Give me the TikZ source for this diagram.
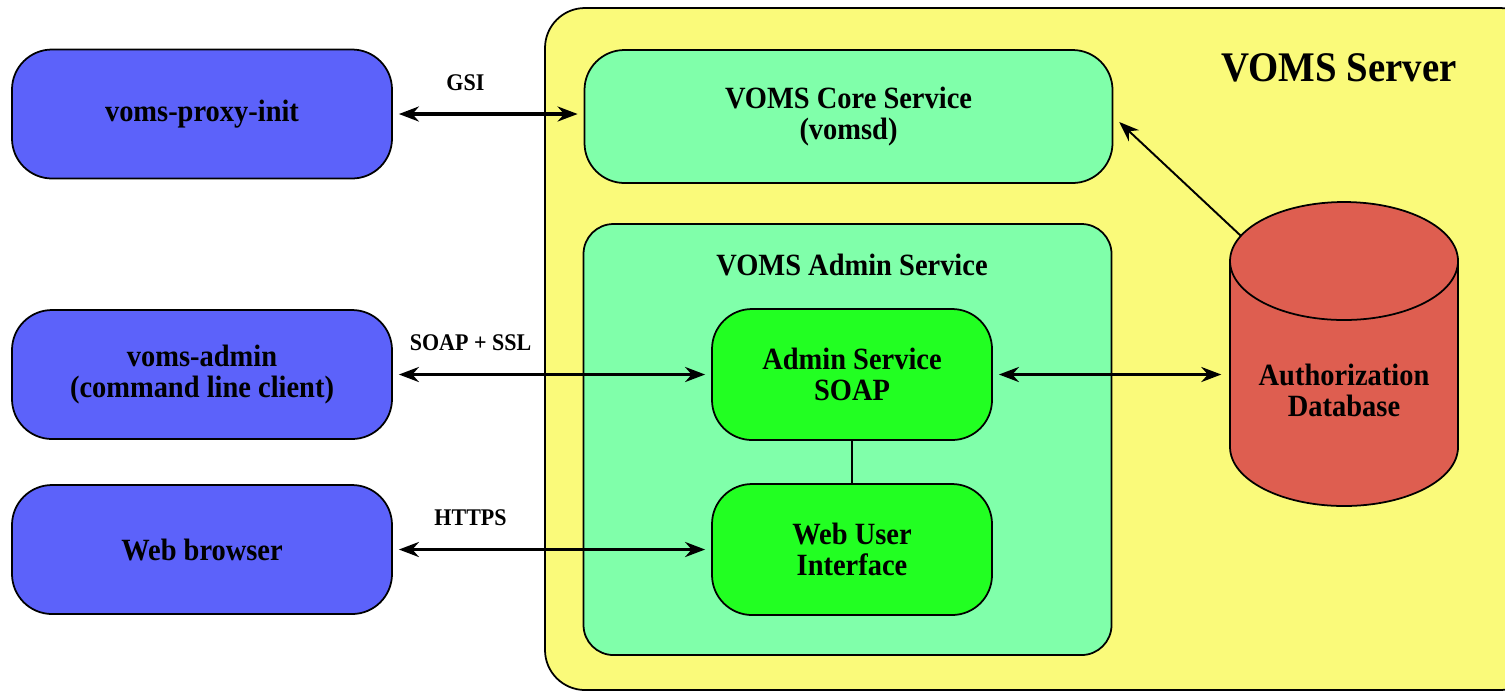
\documentclass[tikz,border=0pt]{standalone}
\usepackage{fontspec}
\setmainfont{Liberation Serif}[FakeStretch=0.92]
\usetikzlibrary{arrows.meta}

\definecolor{clientblue}{RGB}{92,98,250}
\definecolor{serveryellow}{RGB}{250,250,122}
\definecolor{servicegreen}{RGB}{128,255,170}
\definecolor{partgreen}{RGB}{34,255,34}
\definecolor{dbred}{RGB}{222,94,80}

\newcommand{\bodyfont}{\fontsize{8.8}{8.8}\selectfont\bfseries}
\newcommand{\titlefont}{\fontsize{12}{13}\selectfont\bfseries}
\newcommand{\lblfont}{\fontsize{6.8}{7}\selectfont\bfseries}

\tikzset{
    client/.style={draw, line width=0.5pt, fill=clientblue, rounded corners=0.4cm,
        minimum width=3.8cm, minimum height=1.29cm, align=center, font=\bodyfont},
    service/.style={draw, line width=0.5pt, fill=servicegreen, rounded corners=0.4cm,
        minimum width=5.28cm, minimum height=1.33cm, align=center, font=\bodyfont},
    part/.style={draw, line width=0.5pt, fill=partgreen, rounded corners=0.4cm,
        minimum width=2.8cm, minimum height=1.31cm, align=center, font=\bodyfont},
    conn/.style={<->, line width=0.9pt, shorten <=0.6mm, shorten >=0.6mm},
    feed/.style={->, line width=0.55pt, shorten >=0.8mm},
    link/.style={line width=0.6pt},
    lbl/.style={above=1mm, font=\lblfont}
}

\begin{document}
\begin{tikzpicture}[>={Stealth[length=2mm, width=1.5mm]}]

    % Frame
    \path[use as bounding box] (0,0) rectangle (15.05,-6.92);
    \clip (0,0) rectangle (15.05,-6.92);

    % Server
    \draw[line width=0.5pt, fill=serveryellow, rounded corners=0.4cm] (5.45,-0.08) rectangle (15.40,-6.90);
    \node[font=\titlefont] (serverlbl) at (13.39,-0.68) {VOMS Server};

    % Services inside the server
    \node[service] (core) at (8.485,-1.165) {VOMS Core Service\\(vomsd)};
    \node[service, minimum height=4.31cm, rounded corners=0.3cm] (admin) at (8.475,-4.395) {};
    \node[font=\bodyfont] (adminlbl) at (8.52,-2.65) {VOMS Admin Service};
    \node[part] (soap) at (8.52,-3.745) {Admin Service\\SOAP};
    \node[part] (webui) at (8.52,-5.495) {Web User\\Interface};
    \draw[link] (soap) -- (webui);

    % Database
    \draw[line width=0.5pt, fill=dbred] (12.30,-2.61) -- (12.30,-4.47)
        arc[start angle=180, end angle=360, x radius=1.14, y radius=0.59]
        -- (14.58,-2.61)
        arc[start angle=0, end angle=180, x radius=1.14, y radius=0.59] -- cycle;
    \draw[line width=0.5pt] (12.30,-2.61) arc[start angle=180, end angle=360, x radius=1.14, y radius=0.59];
    \node[font=\bodyfont, align=center, minimum width=2.28cm] (db) at (13.44,-3.90) {Authorization\\Database};
    \coordinate (dbrim) at (12.41,-2.36);

    % Clients
    \foreach \name/\y/\txt in {proxy/-1.14/voms-proxy-init, admincli/-3.745/{voms-admin\\(command line client)}, browser/-5.495/Web browser}
        \node[client] (\name) at (2.02,\y) {\txt};

    % Connections
    \draw[conn] (proxy.east) -- (proxy.east -| core.west) node[lbl, pos=0.38] (gsi) {GSI};
    \draw[conn] (admincli.east) -- (admincli.east -| soap.west) node[lbl, pos=0.244] (soapssl) {SOAP + SSL};
    \draw[conn] (browser.east) -- (browser.east -| webui.west) node[lbl, pos=0.244] (https) {HTTPS};
    \draw[conn, shorten >=0.8mm] (soap.east) -- (soap.east -| db.west);
    \draw[feed] (dbrim) -- (core.east);

\end{tikzpicture}
\end{document}
